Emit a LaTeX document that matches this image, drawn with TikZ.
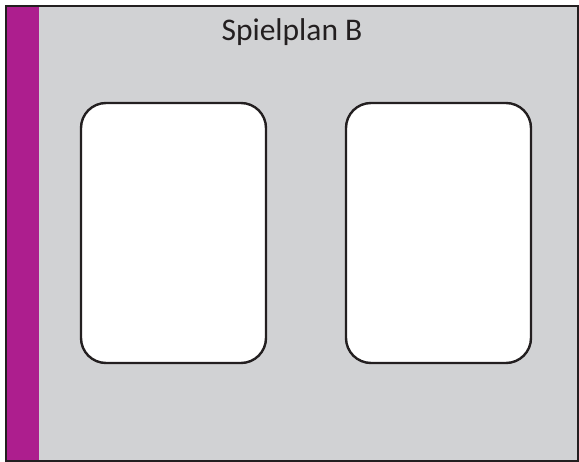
\documentclass[tikz,border=0pt]{standalone}
\usepackage{fontspec}
\setmainfont{Carlito}
\usepackage{tikz}
\definecolor{planGray}{RGB}{209,210,212}
\definecolor{planPurple}{RGB}{173,30,142}
\definecolor{planLine}{RGB}{35,31,32}

\begin{document}
\begin{tikzpicture}[x=1pt, y=-1pt]
		%%%%% START %%%%%
		
		\useasboundingbox (0, 0) rectangle (579, 462);
		
		\fill[planGray] (6, 6) rectangle (578, 461);
		\fill[planPurple] (6, 6) rectangle (39, 461);
		\draw[line width=2pt, color=planLine] (6, 6) rectangle (578, 461);
		
		\node[font=\fontsize{31.5}{34}\selectfont, color=planLine, anchor=base] (title) at (292, 41) {Spielplan B};
		
		\draw[line width=2.4pt, color=planLine, fill=white, rounded corners=25pt] (81, 103) rectangle (266, 363);
		\draw[line width=2.4pt, color=planLine, fill=white, rounded corners=25pt] (346, 103) rectangle (531, 363);
		
		%%%%% END %%%%%
	\end{tikzpicture}
\end{document}
